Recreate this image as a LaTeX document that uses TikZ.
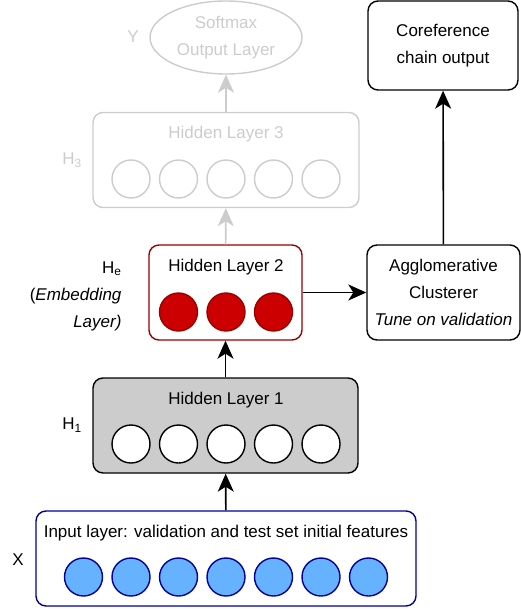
\documentclass[tikz,border=0pt]{standalone}
\usepackage{fontspec}
\setmainfont{Liberation Sans}
\usetikzlibrary{positioning}
\usetikzlibrary{arrows.meta}
\usetikzlibrary{shapes.geometric}
\definecolor{fadegray}{HTML}{CCCCCC}
\definecolor{hidgray}{HTML}{CCCCCC}
\definecolor{embred}{HTML}{CC0000}
\definecolor{embdark}{HTML}{990000}
\definecolor{inblue}{HTML}{66B2FF}
\definecolor{indark}{HTML}{000099}
\begin{document}
\begin{tikzpicture}[x=1pt,y=-1pt,
		every node/.style={font=\fontsize{17}{27}\selectfont},
		box/.style={draw, rounded corners=10pt, line width=1.4pt},
		unit/.style={draw, circle, minimum size=38pt, inner sep=0pt, line width=1.4pt},
		link/.style={-{Stealth[length=18pt,width=16pt,inset=5pt]}, line width=1.6pt}]
		\useasboundingbox (0,0) rectangle (521,610);
		%% Faded top part of the network (not used for clustering)
		\node[draw=fadegray, text=fadegray, ellipse, line width=1.4pt, minimum width=152pt, minimum height=73pt, align=center] (softmax) at (226,37.5) {Softmax\\Output Layer};
		\node[text=fadegray] (ylab) at (133,37) {Y};
		\node[box, draw=fadegray, minimum width=266pt, minimum height=95pt] (hl3) at (226,160) {};
		\node[text=fadegray] (hl3title) at (226,134) {Hidden Layer 3};
		\node[text=fadegray] (h3lab) at (72,160) {H\textsubscript{3}};
		\node[unit, draw=fadegray] (c31) at (131,179) {};
		\node[unit, draw=fadegray] (c32) at (178.5,179) {};
		\node[unit, draw=fadegray] (c33) at (226,179) {};
		\node[unit, draw=fadegray] (c34) at (273.5,179) {};
		\node[unit, draw=fadegray] (c35) at (321,179) {};
		%% Embedding layer
		\node[box, draw=embdark, minimum width=153pt, minimum height=95pt] (hl2) at (225.5,292.5) {};
		\node (hl2title) at (226,267) {Hidden Layer 2};
		\node[unit, draw=embdark, fill=embred] (c21) at (178.5,312) {};
		\node[unit, draw=embdark, fill=embred] (c22) at (226,312) {};
		\node[unit, draw=embdark, fill=embred] (c23) at (273.5,312) {};
		\node[anchor=east, align=right] (helab) at (125,296) {H\textsubscript{e}\\(\textit{Embedding}\\\textit{Layer)}};
		%% Clustering and output
		\node[box, minimum width=153pt, minimum height=95pt, align=center] (agg) at (443.5,292.5) {Agglomerative\\Clusterer\\\textit{Tune on validation}};
		\node[box, minimum width=150pt, minimum height=89pt, align=center] (coref) at (443,45.5) {Coreference\\chain output};
		%% First hidden layer
		\node[box, fill=hidgray, minimum width=265pt, minimum height=95pt] (hl1) at (225.5,425.5) {};
		\node (hl1title) at (226,400) {Hidden Layer 1};
		\node (h1lab) at (72,425) {H\textsubscript{1}};
		\node[unit, fill=white] (c11) at (131,444) {};
		\node[unit, fill=white] (c12) at (178.5,444) {};
		\node[unit, fill=white] (c13) at (226,444) {};
		\node[unit, fill=white] (c14) at (273.5,444) {};
		\node[unit, fill=white] (c15) at (321,444) {};
		%% Input layer
		\node[box, draw=indark, minimum width=380pt, minimum height=95pt] (inp) at (226,558.5) {};
		\node (inptitle) at (226,533) {Input layer: validation and test set initial features};
		\node (xlab) at (18,560) {X};
		\node[unit, draw=indark, fill=inblue] (c01) at (83.5,577) {};
		\node[unit, draw=indark, fill=inblue] (c02) at (131,577) {};
		\node[unit, draw=indark, fill=inblue] (c03) at (178.5,577) {};
		\node[unit, draw=indark, fill=inblue] (c04) at (226,577) {};
		\node[unit, draw=indark, fill=inblue] (c05) at (273.5,577) {};
		\node[unit, draw=indark, fill=inblue] (c06) at (321,577) {};
		\node[unit, draw=indark, fill=inblue] (c07) at (368.5,577) {};
		%% Connections between the layers
		\draw[link] (inp) -- (hl1);
		\draw[link] (hl1) -- (hl2);
		\draw[link, draw=fadegray] (hl2) -- (hl3);
		\draw[link, draw=fadegray] (hl3) -- (softmax);
		\draw[link] (hl2) -- (agg);
		\draw[link] (agg) -- (coref);
	\end{tikzpicture}
\end{document}
